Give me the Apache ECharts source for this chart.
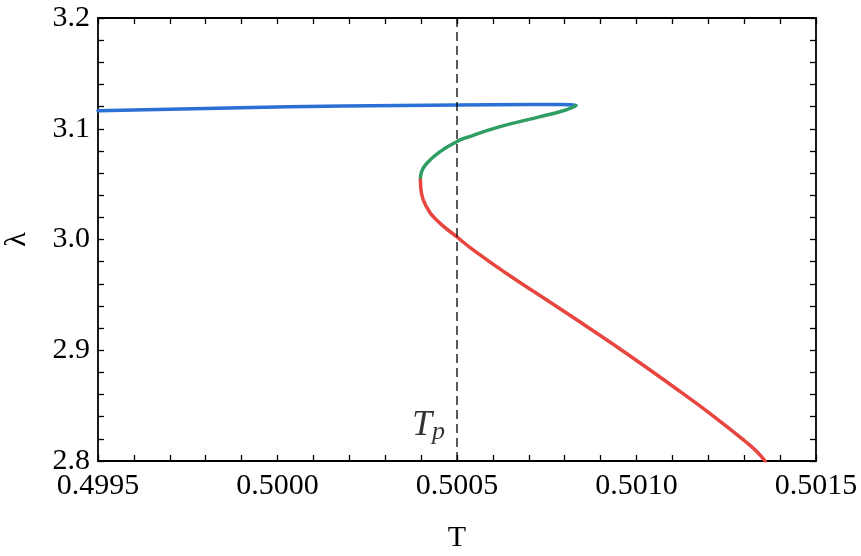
<!DOCTYPE html>
<html>
<head>
<meta charset="utf-8">
<script src="https://cdn.jsdelivr.net/npm/echarts@6/dist/echarts.min.js"></script>
<style>html,body{margin:0;padding:0;background:#fff;}#c{width:861px;height:556px;}</style>
</head>
<body>
<div id="c"></div>
<script>
// ---- data ----
const xTicks = [0.4995, 0.5000, 0.5005, 0.5010, 0.5015];
const yTicks = [2.8, 2.9, 3.0, 3.1, 3.2];
const Tp = 0.5005;
const tpLabelPos = [0.5004206, 2.8321];

const blueT = [0.4995, 0.50003, 0.50034, 0.5005, 0.5007, 0.500787, 0.500815, 0.500831];
const blueL = [3.1163, 3.1199, 3.1210, 3.1215, 3.1218, 3.1218, 3.1216, 3.1210];

const greenT = [0.500831, 0.500815, 0.500787, 0.500745, 0.500713, 0.50062, 0.500527, 0.500499, 0.500453, 0.500416, 0.500401, 0.500398];
const greenL = [3.1210, 3.1183, 3.1154, 3.1120, 3.1094, 3.1019, 3.0921, 3.0883, 3.0793, 3.0688, 3.0609, 3.0537];

const redT = [0.500398, 0.500401, 0.500415, 0.500443, 0.500499, 0.500545, 0.500638, 0.500731, 0.500843, 0.500935, 0.501028, 0.501121, 0.501214, 0.501307, 0.501335, 0.501358];
const redL = [3.0537, 3.0417, 3.0296, 3.0176, 3.0025, 2.9907, 2.9693, 2.9494, 2.9255, 2.9054, 2.8844, 2.8628, 2.8406, 2.8167, 2.8086, 2.8000];

// ---- build ----
const zip = (a, b) => a.map((v, i) => [v, b[i]]);
const FONT = 'Liberation Serif';
const chart = echarts.init(document.getElementById('c'), null, {renderer: 'canvas'});

function xAx(pos, showLabel) {
  return {
    type: 'value', position: pos, min: xTicks[0], max: xTicks[xTicks.length - 1], interval: 0.0005,
    axisLine: {show: true, onZero: false, lineStyle: {color: '#000', width: 1.8}},
    axisTick: {show: true, inside: true, length: 6, lineStyle: {color: '#000', width: 1.3}},
    minorTick: {show: true, splitNumber: 5, length: 6, lineStyle: {color: '#000', width: 1.3}},
    splitLine: {show: false}, minorSplitLine: {show: false},
    axisLabel: {show: showLabel, formatter: v => v.toFixed(4), fontSize: 30, fontFamily: FONT, color: '#000', margin: 10, showMinLabel: true, showMaxLabel: true},
    name: showLabel ? 'T' : '', nameLocation: 'middle', nameGap: 62,
    nameTextStyle: {fontSize: 30, fontFamily: FONT, color: '#000'}
  };
}
function yAx(pos, showLabel) {
  return {
    type: 'value', position: pos, min: yTicks[0], max: yTicks[yTicks.length - 1], interval: 0.1,
    axisLine: {show: true, onZero: false, lineStyle: {color: '#000', width: 1.8}},
    axisTick: {show: true, inside: true, length: 6, lineStyle: {color: '#000', width: 1.3}},
    minorTick: {show: true, splitNumber: 5, length: 6, lineStyle: {color: '#000', width: 1.3}},
    splitLine: {show: false}, minorSplitLine: {show: false},
    axisLabel: {show: showLabel, formatter: v => v.toFixed(1), fontSize: 30, fontFamily: FONT, color: '#000', margin: 8, showMinLabel: true, showMaxLabel: true},
    name: showLabel ? 'λ' : '', nameLocation: 'middle', nameGap: 66,
    nameTextStyle: {fontSize: 30, fontFamily: FONT, color: '#000'}
  };
}

const lineS = (data, color) => ({
  type: 'line', data: data, symbol: 'none', smooth: 0.5, xAxisIndex: 0, yAxisIndex: 0,
  lineStyle: {color: color, width: 3.5, cap: 'round', join: 'round'}, silent: true
});

chart.setOption({
  animation: false,
  backgroundColor: '#fff',
  grid: {left: 98, right: 45, top: 18, bottom: 95, containLabel: false, outerBoundsMode: 'none'},
  xAxis: [xAx('bottom', true), xAx('top', false)],
  yAxis: [yAx('left', true), yAx('right', false)],
  series: [
    lineS(zip(blueT, blueL), '#2a70d6'),
    lineS(zip(greenT, greenL), '#2f9e63'),
    lineS(zip(redT, redL), '#e8453f'),
    {
      type: 'line', data: [[Tp, yTicks[0]], [Tp, yTicks[yTicks.length - 1]]], symbol: 'none',
      xAxisIndex: 0, yAxisIndex: 0, silent: true,
      lineStyle: {color: '#000', width: 1.3, type: [9, 5]}
    },
    {
      type: 'scatter', data: [tpLabelPos], symbolSize: 0, xAxisIndex: 0, yAxisIndex: 0, silent: true,
      label: {
        show: true, position: 'inside', formatter: '{t|T}{p|p}',
        rich: {
          t: {fontSize: 36, fontStyle: 'italic', fontFamily: FONT, color: '#000', lineHeight: 36, verticalAlign: 'top'},
          p: {fontSize: 26, fontStyle: 'italic', fontFamily: FONT, color: '#000', lineHeight: 26, padding: [12, 0, 0, 0], verticalAlign: 'top'}
        }
      }
    }
  ]
});
</script>
</body>
</html>
